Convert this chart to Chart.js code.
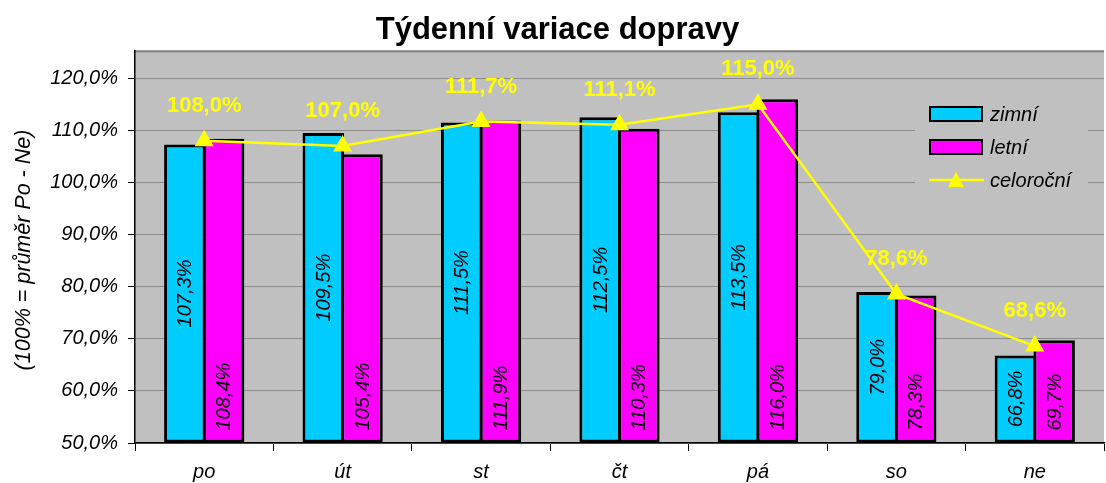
<!DOCTYPE html>
<html lang="cs">
<head>
<meta charset="utf-8">
<title>Týdenní variace dopravy</title>
<script src="https://cdn.jsdelivr.net/npm/chart.js@4.4.1/dist/chart.umd.min.js"></script>
<style>
  html, body { margin: 0; padding: 0; background: #fff; overflow: hidden; }
  #wrap { width: 1106px; height: 483px; overflow: hidden; }
  canvas { display: block; }
</style>
</head>
<body>
<div id="wrap"><canvas id="chart" width="1115" height="483"></canvas></div>
<script>
// -- Data ---------------------------------------------------------------
const days = ["po", "út", "st", "čt", "pá", "so", "ne"];
const winter = [107.3, 109.5, 111.5, 112.5, 113.5, 79.0, 66.8];    // zimní
const summer = [108.4, 105.4, 111.9, 110.3, 116.0, 78.3, 69.7];    // letní
const yearRound = [108.0, 107.0, 111.7, 111.1, 115.0, 78.6, 68.6]; // celoroční
const yTicks = [50, 60, 70, 80, 90, 100, 110, 120];

const FONT = "'Liberation Sans', Arial, sans-serif";
const CYAN = "#00CCFF";
const MAGENTA = "#FF00FF";
const YELLOW = "#FFFF00";
const PLOT_BG = "#C0C0C0";

/** 107.3 -> "107,3%" */
function pct(v) {
  return v.toFixed(1).replace(".", ",") + "%";
}

// -- Plugins ------------------------------------------------------------

// Grey plot area, like the Excel original
const plotBackground = {
  id: "plotBackground",
  beforeDraw(chart) {
    const { ctx, chartArea: a } = chart;
    ctx.save();
    ctx.fillStyle = PLOT_BG;
    ctx.fillRect(a.left, a.top, a.right - a.left, a.bottom - a.top);
    ctx.strokeStyle = "#808080";
    ctx.lineWidth = 2;
    ctx.beginPath();
    ctx.moveTo(a.left, a.top);
    ctx.lineTo(a.right, a.top);
    ctx.stroke();
    ctx.restore();
  },
};

// Rotated values inside the bars + yellow values above the line points
const valueLabels = {
  id: "valueLabels",
  afterDatasetsDraw(chart) {
    const { ctx } = chart;
    ctx.save();
    ctx.fillStyle = "#000";
    ctx.font = `italic 20px ${FONT}`;
    ctx.textBaseline = "middle";

    // zimní: centred in the bar
    chart.getDatasetMeta(0).data.forEach((bar, i) => {
      ctx.save();
      ctx.translate(bar.x, (bar.y + bar.base) / 2);
      ctx.rotate(-Math.PI / 2);
      ctx.textAlign = "center";
      ctx.fillText(pct(winter[i]), 0, 1);
      ctx.restore();
    });

    // letní: anchored at the bar base
    chart.getDatasetMeta(1).data.forEach((bar, i) => {
      ctx.save();
      ctx.translate(bar.x, bar.base - 12);
      ctx.rotate(-Math.PI / 2);
      ctx.textAlign = "left";
      ctx.fillText(pct(summer[i]), 0, 1);
      ctx.restore();
    });

    // celoroční: bold yellow above the point
    ctx.fillStyle = YELLOW;
    ctx.font = `bold 22px ${FONT}`;
    ctx.textAlign = "center";
    chart.getDatasetMeta(2).data.forEach((pt, i) => {
      ctx.fillText(pct(yearRound[i]), pt.x, pt.y - 35);
    });
    ctx.restore();
  },
};

// Legend box inside the plot and the rotated y-axis title
const decorations = {
  id: "decorations",
  afterDraw(chart) {
    const { ctx } = chart;
    const ds = chart.data.datasets;
    ctx.save();

    // legend background hides the gridlines
    ctx.fillStyle = PLOT_BG;
    ctx.fillRect(915, 92, 173, 106);

    ctx.font = `italic 20px ${FONT}`;
    ctx.textBaseline = "middle";
    ctx.textAlign = "left";
    const rows = [114, 147, 180];
    [0, 1].forEach((k) => {
      ctx.fillStyle = ds[k].backgroundColor;
      ctx.fillRect(930, rows[k] - 7, 52, 14);
      ctx.strokeStyle = "#000";
      ctx.lineWidth = 2;
      ctx.strokeRect(930, rows[k] - 7, 52, 14);
      ctx.fillStyle = "#000";
      ctx.fillText(ds[k].label, 990, rows[k] + 1);
    });
    ctx.strokeStyle = YELLOW;
    ctx.lineWidth = 2.5;
    ctx.beginPath();
    ctx.moveTo(929, rows[2]);
    ctx.lineTo(984, rows[2]);
    ctx.stroke();
    ctx.fillStyle = YELLOW;
    ctx.beginPath();
    ctx.moveTo(956, rows[2] - 8);
    ctx.lineTo(964, rows[2] + 7);
    ctx.lineTo(948, rows[2] + 7);
    ctx.closePath();
    ctx.fill();
    ctx.fillStyle = "#000";
    ctx.fillText(ds[2].label, 990, rows[2] + 1);

    // y-axis title
    ctx.translate(24, 250);
    ctx.rotate(-Math.PI / 2);
    ctx.textAlign = "center";
    ctx.font = `italic 21.5px ${FONT}`;
    ctx.fillText("(100% = průměr Po - Ne)", 0, 0);
    ctx.restore();
  },
};

// -- Chart --------------------------------------------------------------
const barStyle = {
  base: 50,
  borderColor: "#000",
  borderWidth: 3,
  borderSkipped: false,
  categoryPercentage: 0.56,
  barPercentage: 1.07,
  order: 1,
};

new Chart(document.getElementById("chart"), {
  type: "bar",
  data: {
    labels: days,
    datasets: [
      { ...barStyle, label: "zimní", data: winter, backgroundColor: CYAN },
      { ...barStyle, label: "letní", data: summer, backgroundColor: MAGENTA },
      {
        type: "line",
        label: "celoroční",
        data: yearRound,
        borderColor: YELLOW,
        backgroundColor: YELLOW,
        borderWidth: 2.5,
        pointStyle: "triangle",
        pointRadius: 8.5,
        pointBackgroundColor: YELLOW,
        pointBorderColor: YELLOW,
        tension: 0,
        order: 0,
      },
    ],
  },
  options: {
    responsive: false,
    animation: false,
    layout: { padding: 0 },
    scales: {
      x: {
        grid: {
          drawOnChartArea: false,
          tickColor: "#000",
          tickLength: 8,
          offset: true,
        },
        border: { color: "#000", width: 1.5 },
        ticks: {
          color: "#000",
          padding: 9,
          font: { family: FONT, size: 20, style: "italic" },
        },
        afterFit: (s) => { s.height = 40; },
      },
      y: {
        min: 50,
        max: 125.2,
        afterBuildTicks: (s) => { s.ticks = yTicks.map((value) => ({ value })); },
        grid: { color: "#8c8c8c", tickColor: "#000", tickLength: 7 },
        border: { color: "#000", width: 1.5 },
        ticks: {
          color: "#000",
          padding: 10,
          font: { family: FONT, size: 20, style: "italic" },
          callback: (v) => pct(v),
        },
        afterFit: (s) => { s.width = 135; },
      },
    },
    plugins: {
      legend: { display: false },
      tooltip: { enabled: false },
      title: {
        display: true,
        text: "Týdenní variace dopravy",
        color: "#000",
        font: { family: FONT, size: 31, weight: "bold" },
        padding: { top: 12, bottom: 2 },
      },
    },
  },
  plugins: [plotBackground, valueLabels, decorations],
});
</script>
</body>
</html>
